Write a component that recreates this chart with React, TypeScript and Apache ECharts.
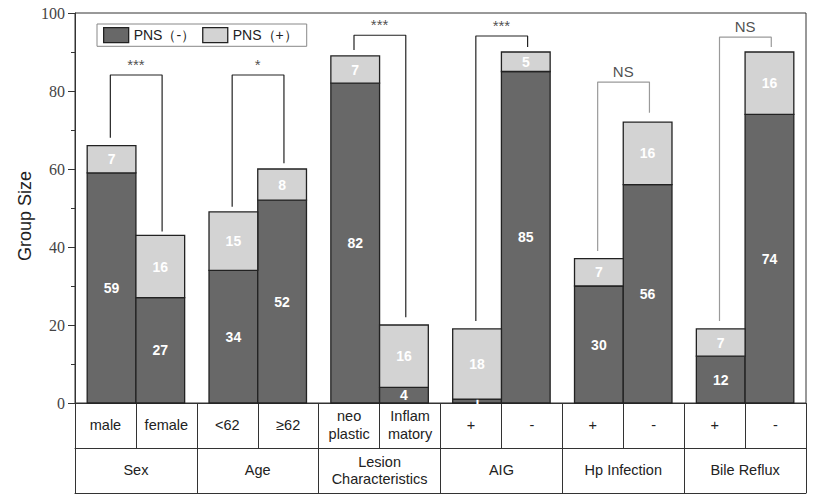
import React, { useEffect, useRef } from "react";
import * as echarts from "echarts";

const subLabels = ["male", "female", "<62", "≥62", "neo\nplastic", "Inflam\nmatory", "+", "-", "+", "-", "+", "-"];
const groupLabels = ["Sex", "Age", "Lesion\nCharacteristics", "AIG", "Hp Infection", "Bile Reflux"];
const pnsNeg = [59, 27, 34, 52, 82, 4, 1, 85, 30, 56, 12, 74];
const pnsPos = [7, 16, 15, 8, 7, 16, 18, 5, 7, 16, 7, 16];
const sigLabels = ["***", "*", "***", "***", "NS", "NS"];
const bracketTop = [84.1, 84.1, 94.3, 94.1, 82.3, 93.8];
const bracketLeftEnd = [68, 50.3, 90.5, 21, 39, 21];
const bracketRightEnd = [44, 61.5, 22, 91.3, 74.4, 91.3];
const yMin = 0;
const yMax = 100;
const yInterval = 20;

const FONT = "Liberation Sans, Arial, sans-serif";
const NEG_COLOR = "#686868";
const POS_COLOR = "#d3d3d3";
const EDGE = "#222";

export default function App() {
  const ref = useRef<HTMLDivElement>(null);
  useEffect(() => {
    if (!ref.current) return;
    const chart = echarts.init(ref.current, null, { renderer: "svg" });
    const xPos = (i: number) => i + (i % 2 === 0 ? 0.6 : 0.4);

    const makeRender = (fill: string) => (params: any, api: any) => {
      const x = api.value(0);
      const base = api.value(1);
      const top = api.value(2);
      const val = api.value(3);
      const p0 = api.coord([x, base]);
      const p1 = api.coord([x, top]);
      const w = api.size([0.8, 0])[0];
      return {
        type: "group",
        children: [
          {
            type: "rect",
            shape: { x: p0[0] - w / 2, y: p1[1], width: w, height: p0[1] - p1[1] },
            style: { fill, stroke: EDGE, lineWidth: 1.3 },
          },
          {
            type: "text",
            x: p0[0],
            y: (p0[1] + p1[1]) / 2,
            z2: 10,
            style: {
              text: String(val),
              fill: "#fff",
              fontSize: 14,
              fontWeight: "bold",
              fontFamily: FONT,
              align: "center",
              verticalAlign: "middle",
            },
          },
        ],
      };
    };

    const bracketSeries = sigLabels.map((sig, g) => {
      const xl = xPos(g * 2) - 0.02;
      const xr = xPos(g * 2 + 1) + 0.03;
      const color = sig === "NS" ? "#9a9a9a" : "#222";
      return {
        type: "line",
        xAxisIndex: 0,
        yAxisIndex: 0,
        symbol: "none",
        silent: true,
        lineStyle: { color, width: 1.2 },
        data: [
          [xl, bracketLeftEnd[g]],
          [xl, bracketTop[g]],
          [xr, bracketTop[g]],
          [xr, bracketRightEnd[g]],
        ],
        z: 1,
      };
    });

    const sigSeries = {
      type: "scatter",
      xAxisIndex: 0,
      yAxisIndex: 0,
      symbolSize: 0,
      silent: true,
      data: sigLabels.map((s, g) => ({ value: [g * 2 + 1, bracketTop[g]], name: s })),
      label: {
        show: true,
        position: "top",
        distance: 3,
        formatter: (p: any) => p.name,
        color: "#222",
        fontSize: 15,
        fontFamily: FONT,
      },
    };

    const subIdx = subLabels.map((_, i) => "s" + i);
    const grpIdx = groupLabels.map((_, i) => "g" + i);

    chart.setOption({
      animation: false,
      grid: {
        left: 75,
        right: 10,
        top: 13,
        bottom: 97,
        show: true,
        borderColor: "#333",
        borderWidth: 1,
        backgroundColor: "transparent",
      },
      legend: {
        data: ["PNS（-）", "PNS（+）"],
        left: 97,
        top: 24,
        padding: [3, 9, 3, 6],
        itemGap: 7,
        itemTextGap: 8,
        itemWidth: 25,
        itemHeight: 15,
        icon: "rect",
        borderColor: "#888",
        borderWidth: 1,
        backgroundColor: "#fff",
        itemStyle: { borderColor: EDGE, borderWidth: 1.3 },
        textStyle: { fontSize: 14, fontFamily: FONT, color: "#222" },
      },
      graphic: [
        {
          type: "text",
          x: 25,
          y: 216,
          rotation: Math.PI / 2,
          style: {
            text: "Group Size",
            fontSize: 18,
            fontFamily: FONT,
            fill: "#222",
            align: "center",
            verticalAlign: "middle",
          },
        },
      ],
      xAxis: [
        { type: "value", min: 0, max: 12, show: false, gridIndex: 0 },
        {
          type: "category",
          gridIndex: 0,
          position: "bottom",
          data: subIdx,
          axisLine: { show: true, lineStyle: { color: "#333", width: 1 } },
          axisTick: { show: true, interval: 0, length: 45, alignWithLabel: false, lineStyle: { color: "#333", width: 1 } },
          axisLabel: {
            interval: 0,
            margin: 22,
            verticalAlign: "middle",
            lineHeight: 18,
            fontSize: 14.5,
            fontFamily: FONT,
            color: "#222",
            formatter: (_v: string, i: number) => subLabels[i],
          },
          splitLine: { show: false },
        },
        {
          type: "category",
          gridIndex: 0,
          position: "bottom",
          offset: 45,
          data: grpIdx,
          axisLine: { show: true, lineStyle: { color: "#333", width: 1 } },
          axisTick: { show: true, interval: 0, length: 45, alignWithLabel: false, lineStyle: { color: "#333", width: 1 } },
          axisLabel: {
            interval: 0,
            margin: 22,
            verticalAlign: "middle",
            lineHeight: 17,
            fontSize: 14.5,
            fontFamily: FONT,
            color: "#222",
            formatter: (_v: string, i: number) => groupLabels[i],
          },
          splitLine: { show: false },
        },
        {
          type: "value",
          gridIndex: 0,
          position: "bottom",
          offset: 90,
          min: 0,
          max: 12,
          axisLine: { show: true, lineStyle: { color: "#333", width: 1 } },
          axisTick: { show: false },
          axisLabel: { show: false },
          splitLine: { show: false },
        },
      ],
      yAxis: {
        type: "value",
        min: yMin,
        max: yMax,
        interval: yInterval,
        axisLine: { show: true, lineStyle: { color: "#333", width: 1 } },
        axisTick: { show: true, length: 7, lineStyle: { color: "#333" } },
        minorTick: { show: true, splitNumber: 2, length: 4, lineStyle: { color: "#333" } },
        splitLine: { show: false },
        axisLabel: { margin: 10, fontSize: 16, fontFamily: "Liberation Serif, serif", color: "#444" },
      },
      series: [
        {
          name: "PNS（-）",
          type: "custom",
          xAxisIndex: 0,
          yAxisIndex: 0,
          itemStyle: { color: NEG_COLOR, borderColor: EDGE, borderWidth: 1.3 },
          renderItem: makeRender(NEG_COLOR),
          encode: { x: 0, y: [1, 2] },
          data: pnsNeg.map((v, i) => [xPos(i), 0, v, v]),
          z: 2,
        },
        {
          name: "PNS（+）",
          type: "custom",
          xAxisIndex: 0,
          yAxisIndex: 0,
          itemStyle: { color: POS_COLOR, borderColor: EDGE, borderWidth: 1.3 },
          renderItem: makeRender(POS_COLOR),
          encode: { x: 0, y: [1, 2] },
          data: pnsPos.map((v, i) => [xPos(i), pnsNeg[i], pnsNeg[i] + v, v]),
          z: 3,
        },
        ...bracketSeries,
        sigSeries,
      ],
    });
    return () => chart.dispose();
  }, []);
  return (
    <div
      ref={ref}
      style={{ position: "fixed", left: 0, top: 0, width: 816, height: 500, background: "#fff" }}
    />
  );
}
